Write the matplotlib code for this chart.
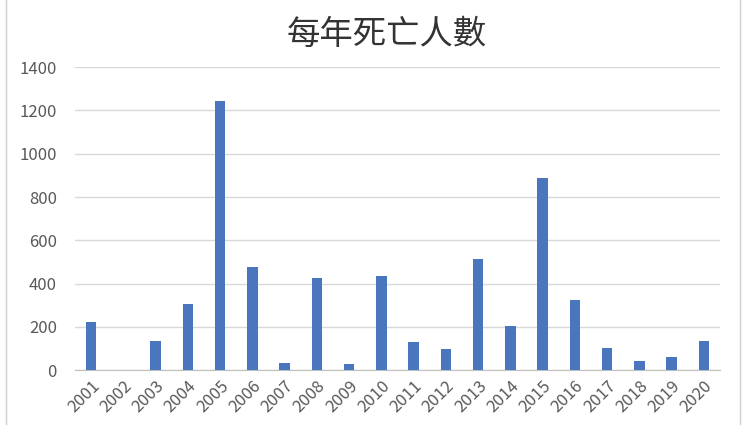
import matplotlib.pyplot as plt
from matplotlib.patches import Rectangle

plt.rcParams['font.family'] = ['Noto Sans CJK TC', 'DejaVu Sans']

# 年份與每年死亡人數
years = [str(y) for y in range(2001, 2021)]
deaths = [223, 0, 133, 308, 1243, 476, 32, 426, 27, 437,
          132, 98, 512, 203, 888, 322, 104, 42, 60, 136]
yticks = [0, 200, 400, 600, 800, 1000, 1200, 1400]

fig = plt.figure(figsize=(7.5, 4.25), dpi=100)
ax = fig.add_axes([0.1, 0.129, 0.86, 0.713])

x = list(range(len(years)))
ax.bar(x, deaths, width=0.33, color='#4A76BD', zorder=3)

ax.set_xlim(-0.5, len(years) - 0.5)
ax.set_ylim(0, 1400)
ax.set_yticks(yticks)
ax.set_xticks(x)
ax.set_xticklabels(years, rotation=45, ha='right', rotation_mode='anchor')
ax.tick_params(axis='both', length=0, colors='#595959', labelsize=12)
ax.tick_params(axis='y', pad=13)
ax.tick_params(axis='x', pad=5)
ax.grid(axis='y', color='#d9d9d9', linewidth=1, zorder=0)
for s in ['top', 'right', 'left']:
    ax.spines[s].set_visible(False)
ax.spines['bottom'].set_color('#bfbfbf')

fig.text(0.516, 0.92, '每年死亡人數', ha='center', va='center',
         fontsize=24, color='#333333', fontweight='light')

# 外框
fig.patches.append(Rectangle((0.008, -0.01), 0.978, 1.02, transform=fig.transFigure,
                             fill=False, edgecolor='#d0d0d0', linewidth=1))

fig.savefig('out.png', dpi=100)
